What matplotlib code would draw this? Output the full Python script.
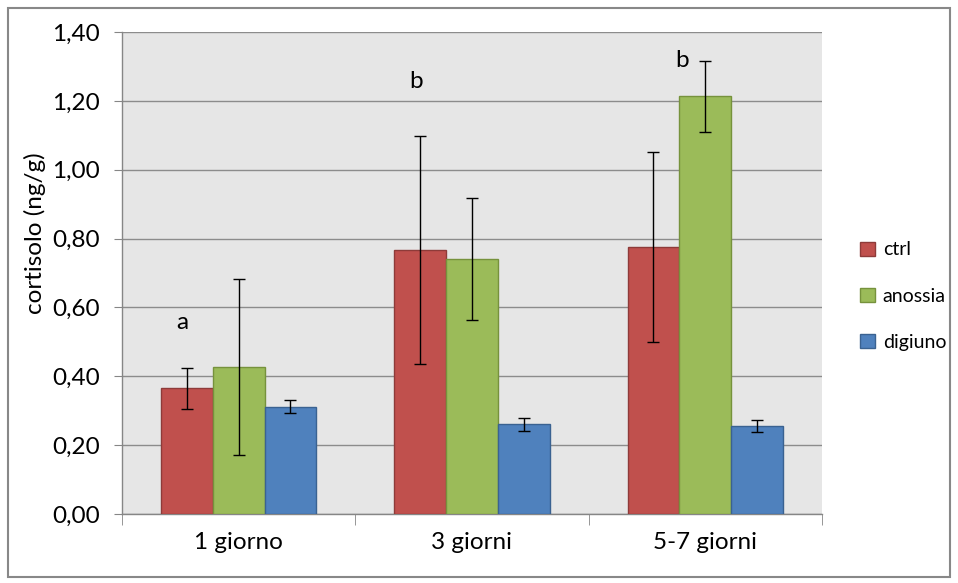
import matplotlib.pyplot as plt
import matplotlib.patches as patches
import numpy as np

categories = ["1 giorno", "3 giorni", "5-7 giorni"]
series = ["ctrl", "anossia", "digiuno"]
ctrl = [0.365, 0.767, 0.775]
ctrl_err = [0.060, 0.330, 0.275]
anossia = [0.427, 0.741, 1.213]
anossia_err = [0.256, 0.178, 0.104]
digiuno = [0.311, 0.260, 0.256]
digiuno_err = [0.019, 0.019, 0.017]
letters = ["a", "b", "b"]
letter_y = [0.555, 1.255, 1.318]
letter_x_offset = [-0.24, -0.24, -0.10]

values = [ctrl, anossia, digiuno]
errors = [ctrl_err, anossia_err, digiuno_err]
colors = ["#C0504D", "#9BBB59", "#4F81BD"]
edges = ["#8E3B39", "#76923C", "#3A6291"]

plt.rcParams["font.family"] = ["Lato", "DejaVu Sans"]
fs = 17.5

fig = plt.figure(figsize=(9.58, 5.83), dpi=100)
ax = fig.add_axes([0.1273, 0.1184, 0.7307, 0.8267])
ax.set_facecolor("#E6E6E6")

x = np.arange(len(categories))
w = 0.222
for i in range(3):
    ax.bar(x + (i - 1) * w, values[i], w, color=colors[i], edgecolor=edges[i],
           linewidth=1, label=series[i], zorder=3,
           yerr=errors[i], error_kw=dict(ecolor="black", elinewidth=1, capsize=4.3, capthick=1, zorder=4))

for i in range(3):
    ax.text(x[i] + letter_x_offset[i], letter_y[i], letters[i], ha="center", va="center", fontsize=fs)

ax.set_xlim(-0.5, 2.5)
ax.set_ylim(0, 1.4)
yt = np.arange(0, 1.41, 0.2)
ax.set_yticks(yt)
ax.set_yticklabels([("%.2f" % v).replace(".", ",") for v in yt], fontsize=fs)
ax.set_xticks(x)
ax.set_xticklabels(categories, fontsize=fs)
ax.set_xticks([-0.5, 0.5, 1.5, 2.5], minor=True)
ax.tick_params(axis="x", which="major", length=0, pad=13)
ax.tick_params(axis="x", which="minor", length=8, color="#868686", direction="out")
ax.tick_params(axis="y", length=6, color="#868686", direction="out", pad=10)
ax.yaxis.grid(True, color="#8C8C8C", linewidth=1, zorder=0)
ax.set_axisbelow(True)
for s in ["top", "right"]:
    ax.spines[s].set_visible(False)
for s in ["left", "bottom"]:
    ax.spines[s].set_color("#868686")
    ax.spines[s].set_linewidth(1)

fig.text(0.037, 0.6, "cortisolo (ng/g)", rotation=90, ha="center", va="center", fontsize=fs)

leg = ax.legend(loc="center left", bbox_to_anchor=(1.055, 0.452), frameon=False, fontsize=14,
                handlelength=0.75, handleheight=0.75, handletextpad=0.4, labelspacing=1.5,
                borderaxespad=0, borderpad=0)

fig.patches.append(patches.Rectangle((0.008, 0.01), 0.984, 0.976, transform=fig.transFigure,
                                     fill=False, edgecolor="#888888", linewidth=1.5))

fig.savefig("out.png", dpi=100)
